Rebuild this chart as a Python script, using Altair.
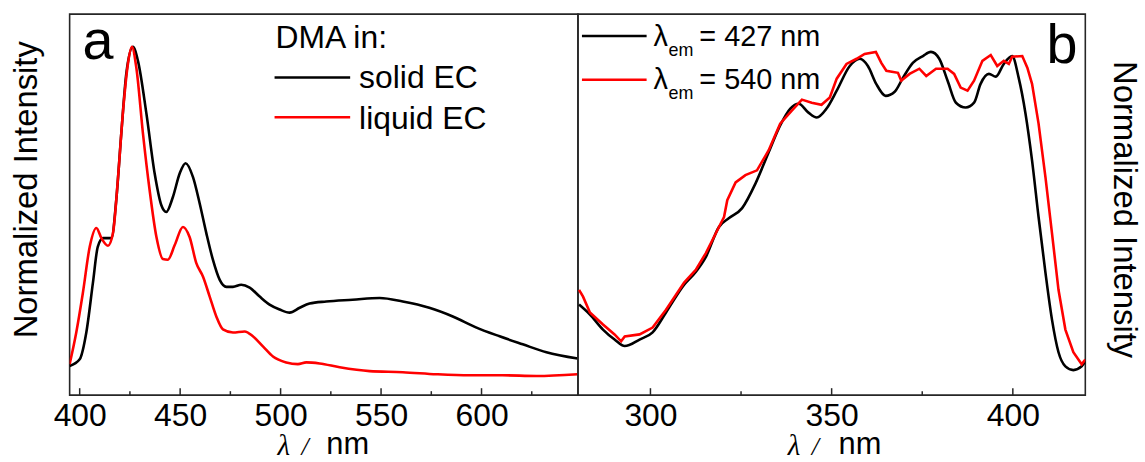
import altair as alt
import pandas as pd

FONT = "Liberation Sans"
SERIF = "Liberation Serif"
FRAME = "#262626"

# ---------------- Panel a: emission spectra of DMA ----------------
a_solid_wl = [395, 400, 403.3, 406.6, 409, 411.6, 415.8, 418.2, 420.7, 423.2, 426.5, 429, 433.2, 437.3, 440.6,
              443.1, 446.4, 449.8, 452.7, 456.4, 459.7, 463, 466.3, 469.7, 473, 476.3, 480.4, 484.6, 489.6, 494.5,
              499.5, 504.5, 509.5, 514.4, 522.7, 535.8, 549.3, 560.8, 574, 585.7, 597.5, 609, 620.5, 632.3, 647.8]
a_solid_int = [8.4, 10.3, 18.0, 32.3, 42.6, 45.1, 45.1, 56.0, 75.1, 92.3, 100, 96.0, 80.9, 63.7, 54.6,
               52.6, 56.9, 63.7, 66.6, 62.6, 55.1, 46.6, 38.9, 33.1, 31.1, 31.1, 31.7, 30.9, 28.3, 26.0,
               24.6, 23.7, 25.1, 26.3, 26.9, 27.4, 27.9, 26.9, 25.1, 22.6, 19.4, 16.9, 14.6, 12.3, 10.5]

a_liquid_wl = [395, 398.3, 401.6, 405, 408.3, 410.8, 414.1, 416.6, 419.1, 421.6, 424, 426, 428.2, 431.5, 434.8,
               438.2, 441.4, 443.9, 447.3, 451.4, 454.7, 458, 461.4, 464.7, 468, 471.3, 476.3, 482.1, 486.2, 491.2,
               496.2, 502.8, 508.6, 512.8, 519.4, 529.4, 544.3, 560.8, 577.6, 594, 610.4, 627.4, 647.8]
a_liquid_int = [8.9, 18.0, 29.4, 42.6, 48.0, 45.1, 42.9, 46.6, 62.6, 81.7, 95.1, 100, 94.0, 75.1, 58.9,
                45.4, 39.1, 38.9, 43.1, 48.3, 45.4, 38.0, 34.0, 28.3, 22.6, 18.9, 18.0, 18.3, 16.9, 14.0,
                11.1, 9.4, 8.9, 9.4, 9.1, 8.0, 6.9, 6.6, 6.0, 5.7, 5.7, 5.5, 6.0]

# ---------------- Panel b: excitation spectra ----------------
b_427_wl = [280.3, 283.3, 286.9, 290.1, 292.9, 297, 300.6, 304.3, 309.3, 312.5, 315.3, 318.9, 321.7, 325.3, 329,
            332.6, 335.8, 338.6, 340.9, 343.6, 345.9, 348.6, 351.4, 355, 357.8, 360, 362.3, 364.9, 367.4, 369.7,
            372.4, 375.2, 377.4, 379.7, 382, 384.3, 387, 389.3, 391.1, 393.4, 395.3, 397.5, 399.8, 401.6, 403.5,
            405.3, 407.1, 409, 410.8, 412.6, 414.5, 416.7, 419, 420]
b_427_int = [26.4, 23.5, 19.1, 16.2, 14.3, 16.2, 18.3, 24.1, 32.2, 35.9, 40.3, 49.0, 51.6, 54.5, 61.7,
             70.7, 78.6, 83.5, 84.9, 82.3, 80.9, 83.5, 88.7, 95.9, 98.0, 95.9, 90.7, 87.2, 88.4, 92.5,
             96.8, 98.8, 100, 98.0, 91.6, 85.2, 83.8, 85.2, 90.7, 93.6, 92.8, 96.5, 98.8, 92.5, 82.0,
             68.4, 51.9, 35.7, 22.0, 12.5, 8.4, 7.3, 8.4, 9.9]

b_540_wl = [280.3, 281.4, 283.3, 286.9, 290.1, 291.9, 292.9, 297, 300.6, 304.3, 309.3, 312.5, 315.3, 318.9, 320.3,
            321.2, 323.5, 326.2, 329.4, 332.6, 335.8, 339, 341.8, 344.5, 347.2, 349.5, 351.4, 354.1, 356.9, 359.1,
            362.2, 363.7, 365.1, 368.3, 369.2, 371.5, 374.2, 376.1, 378.8, 382, 383.8, 385.6, 387.5, 389.3, 391.6,
            393.9, 395.7, 397.5, 398.9, 399.8, 402.6, 404, 405.3, 407.1, 409, 410.8, 412.6, 414.5, 416.7, 419, 420]
b_540_int = [30.7, 28.7, 24.1, 20.6, 17.7, 15.7, 17.1, 17.7, 19.7, 24.9, 32.8, 36.5, 41.4, 49.0, 51.9,
             56.8, 62.0, 64.1, 65.5, 71.3, 79.1, 82.9, 86.1, 85.2, 84.6, 86.7, 92.2, 96.5, 98.0, 99.4,
             100, 96.8, 94.5, 93.9, 91.6, 93.6, 95.1, 93.0, 95.1, 95.1, 93.6, 89.6, 88.7, 91.6, 97.4,
             99.1, 95.9, 97.4, 96.5, 98.6, 98.8, 95.4, 90.7, 79.1, 63.5, 47.2, 30.7, 19.1, 12.5, 9.0, 10.4]

# tick positions
a_major_ticks = [400, 450, 500, 550, 600]
a_minor_ticks = [425, 475, 525, 575, 625]
b_major_ticks = [300, 350, 400]
b_minor_ticks = [325, 375]

W_A, W_B, H = 511, 510, 383

one = pd.DataFrame({"k": [0]})


def txt(x, y, s, size, font=FONT, style="normal", color="black"):
    return alt.Chart(one).mark_text(text=s, font=font, fontSize=size, fontStyle=style, color=color,
                                    align="left", baseline="alphabetic").encode(x=alt.value(x), y=alt.value(y))


def hline(x1, x2, y, color):
    return alt.Chart(one).mark_rule(color=color, strokeWidth=2.6).encode(
        x=alt.value(x1), x2=alt.value(x2), y=alt.value(y))


def panel(series, xdom, ydom, majors, minors, yaxis):
    xs = alt.Scale(domain=xdom, nice=False, zero=False)
    ys = alt.Scale(domain=ydom, nice=False, zero=False)
    layers = []
    for i, (wl, inten, color, interp) in enumerate(series):
        df = pd.DataFrame({"wl": wl, "intensity": inten})
        xenc = alt.X("wl:Q", scale=xs)
        yenc = alt.Y("intensity:Q", scale=ys)
        if i == 0:
            xenc = alt.X("wl:Q", scale=xs, axis=alt.Axis(values=majors, title=None, ticks=False, domain=False,
                                                         grid=False, labelFontSize=32, labelFont=FONT,
                                                         labelColor="black", labelPadding=6, labelFlush=False))
            yenc = alt.Y("intensity:Q", scale=ys, axis=yaxis)
        layers.append(alt.Chart(df).mark_line(color=color, strokeWidth=2.6, clip=True, interpolate=interp)
                      .encode(x=xenc, y=yenc))
    layers.append(alt.Chart(pd.DataFrame({"wl": majors})).mark_rule(color=FRAME, strokeWidth=1.5)
                  .encode(x=alt.X("wl:Q", scale=xs), y=alt.value(H), y2=alt.value(H - 7)))
    layers.append(alt.Chart(pd.DataFrame({"wl": minors})).mark_rule(color=FRAME, strokeWidth=1.5)
                  .encode(x=alt.X("wl:Q", scale=xs), y=alt.value(H), y2=alt.value(H - 4)))
    return layers


yaxis_a = alt.Axis(title="Normalized Intensity", labels=False, ticks=False, domain=False, grid=False,
                   titleFontSize=33, titleFont=FONT, titleFontWeight="normal", titleColor="black",
                   titleAngle=270, titleX=-33, titleY=176, titleBaseline="alphabetic", titleAlign="center")
yaxis_b = alt.Axis(title="Normalized Intensity", orient="right", labels=False, ticks=False, domain=False,
                   grid=False, titleFontSize=33, titleFont=FONT, titleFontWeight="normal", titleColor="black",
                   titleAngle=90, titleX=28, titleY=196, titleBaseline="alphabetic", titleAlign="center")

layers_a = panel([(a_solid_wl, a_solid_int, "#000000", "monotone"),
                  (a_liquid_wl, a_liquid_int, "#ff0000", "monotone")],
                 [395, 648], [0, 109.4], a_major_ticks, a_minor_ticks, yaxis_a)
layers_a += [
    txt(13, 45, "a", 56),
    txt(207, 34, "DMA in:", 32),
    hline(206, 282, 63.7, "#000000"),
    txt(291, 74, "solid EC", 32),
    hline(206, 282, 103.7, "#ff0000"),
    txt(291, 115, "liquid EC", 32),
    txt(209, 443, "λ", 29, font=SERIF, style="italic"),
    txt(233, 443, "/", 26, font=SERIF, style="italic"),
    txt(258, 442, "nm", 31),
]
panel_a = alt.layer(*layers_a).properties(width=W_A, height=H)

layers_b = panel([(b_427_wl, b_427_int, "#000000", "monotone"),
                  (b_540_wl, b_540_int, "#ff0000", "linear")],
                 [280, 420], [0, 111], b_major_ticks, b_minor_ticks, yaxis_b)
layers_b += [
    txt(471, 49, "b", 56),
    hline(4, 69, 22, "#000000"),
    txt(76, 32, "λ", 29),
    txt(91, 42, "em", 18),
    txt(122, 32, "= 427 nm", 29),
    hline(4, 69, 66, "#ff0000"),
    txt(76, 75, "λ", 29),
    txt(91, 85, "em", 18),
    txt(122, 75, "= 540 nm", 29),
    txt(211, 443, "λ", 29, font=SERIF, style="italic"),
    txt(235, 443, "/", 26, font=SERIF, style="italic"),
    txt(262, 442, "nm", 31),
]
panel_b = alt.layer(*layers_b).properties(width=W_B, height=H)

chart = alt.hconcat(panel_a, panel_b, spacing=0, bounds="flush").properties(
    padding={"left": 10, "top": 12, "right": 5, "bottom": 5},
    background="white",
).configure_view(stroke=FRAME, strokeWidth=1.6)

chart.save("out.html", embed_options={"renderer": "svg", "actions": False})
